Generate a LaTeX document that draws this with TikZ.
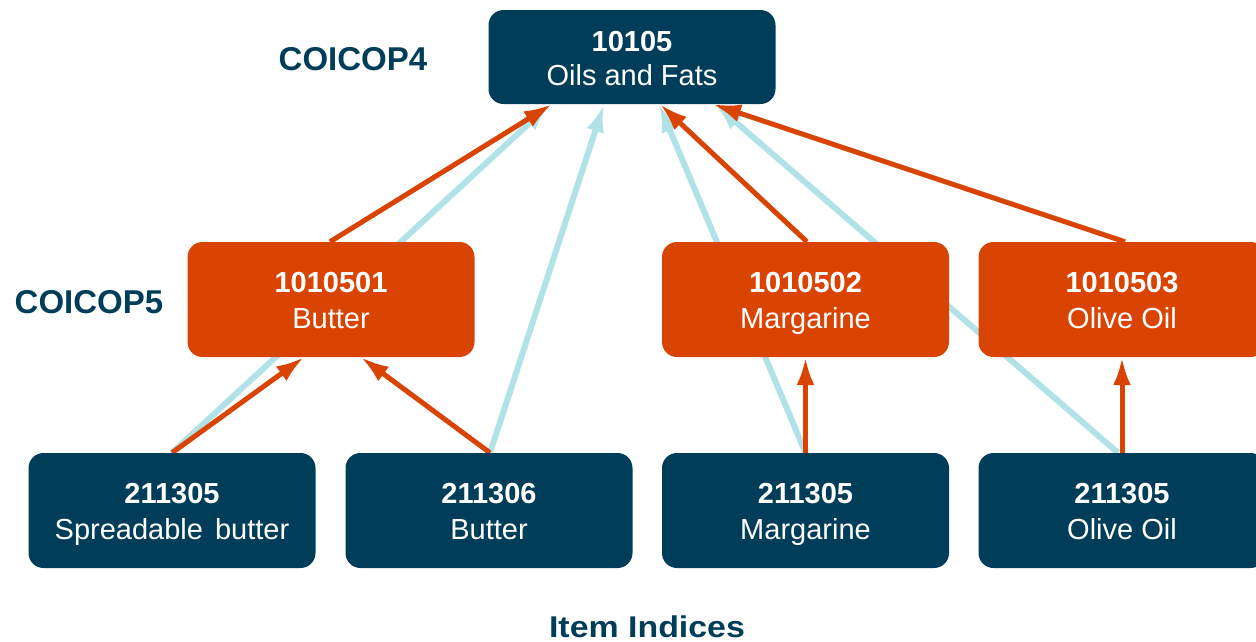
\documentclass[tikz,border=0pt]{standalone}
\usepackage{fontspec}
\setmainfont{Liberation Sans}
\usetikzlibrary{arrows.meta,backgrounds}

\definecolor{navy}{RGB}{0,61,88}
\definecolor{rust}{RGB}{218,68,3}
\definecolor{sky}{RGB}{176,226,232}

% two-line box text with fixed line heights, so every box sets its lines alike
\newcommand{\boxtext}[2]{\rule{0pt}{28pt}\textbf{#1}\\#2\rule[-6pt]{0pt}{6pt}}

\tikzset{
  box/.style={rounded corners=15pt, minimum width=287pt, minimum height=115pt,
    inner sep=0pt, align=center, text=white, font=\fontsize{29}{36}\selectfont},
  navybox/.style={box, fill=navy},
  rustbox/.style={box, fill=rust},
  level/.style={text=navy, font=\fontsize{33}{36}\selectfont\bfseries},
  tip/.style={-{Latex[length=28pt,width=18pt]}},
  direct/.style={tip, draw=sky, line width=6pt},
  rollup/.style={tip, draw=rust, line width=5pt},
}

\begin{document}
\begin{tikzpicture}[x=1pt,y=-1pt]
\path[use as bounding box] (0,0) rectangle (1256,641);
\clip (0,0) rectangle (1256,641);

% COICOP4
\node[navybox, minimum height=94pt, font=\fontsize{29}{34}\selectfont] (top) at (632,57) {\boxtext{10105}{Oils and Fats}};

% COICOP5
\node[rustbox] (c5a) at (331,299.5)   {\boxtext{1010501}{Butter}};
\node[rustbox] (c5b) at (805.5,299.5) {\boxtext{1010502}{Margarine}};
\node[rustbox] (c5c) at (1122,299.5)  {\boxtext{1010503}{Olive Oil}};

% item indices
\node[navybox] (i1) at (172,510.5)   {\boxtext{211305}{Spreadable\hspace{4pt} butter}};
\node[navybox] (i2) at (489,510.5)   {\boxtext{211306}{Butter}};
\node[navybox] (i3) at (805.5,510.5) {\boxtext{211305}{Margarine}};
\node[navybox] (i4) at (1122,510.5)  {\boxtext{211305}{Olive Oil}};

% level labels
\node[level] (l4) at (353,59) {COICOP4};
\node[level] (l5) at (89,302) {COICOP5};
\node[level, font=\fontsize{30}{32}\selectfont\bfseries, anchor=base] (li) at (647,637) {\scalebox{1.13}[1]{Item Indices}};

\begin{scope}[on background layer]
% item indices straight to COICOP4
\draw[direct] (i1.north) -- ([xshift=-82pt]top.south);
\draw[direct] ([xshift=1pt]i2.north) -- ([xshift=-28pt]top.south);
\draw[direct] (i3.north) -- ([xshift=27pt]top.south);
\draw[direct] ([xshift=-4pt]i4.north) -- ([xshift=83pt]top.south);

% COICOP5 to COICOP4
\draw[rollup] ([xshift=-1pt]c5a.north) -- ([xshift=-80pt]top.south);
\draw[rollup] ([xshift=1.5pt]c5b.north) -- ([xshift=28pt]top.south);
\draw[rollup] ([xshift=3pt]c5c.north) -- ([xshift=81pt]top.south);

% item indices to COICOP5
\draw[rollup] (i1.north) -- ([xshift=-27pt]c5a.south);
\draw[rollup] ([xshift=1pt]i2.north) -- ([xshift=30pt]c5a.south);
\draw[rollup] (i3.north) -- (c5b.south);
\draw[rollup] (i4.north) -- (c5c.south);
\end{scope}
\end{tikzpicture}
\end{document}
